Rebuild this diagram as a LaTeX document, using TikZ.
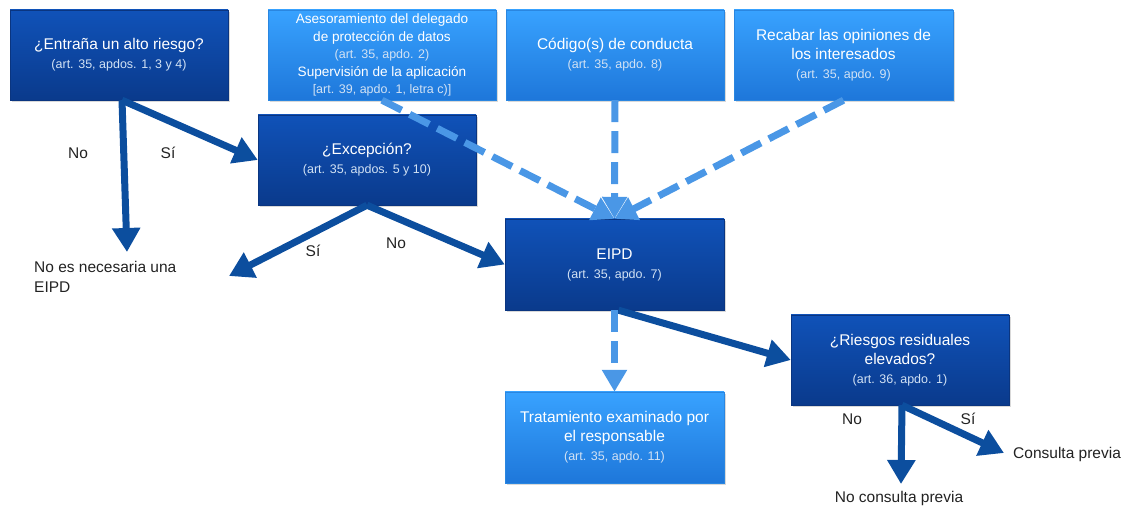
\documentclass[tikz,border=0pt]{standalone}
\usepackage{fontspec}
\setmainfont{Liberation Sans}
\usetikzlibrary{arrows.meta,shadows}
\definecolor{decisiontop}{HTML}{1052B8}
\definecolor{decisionbottom}{HTML}{0A3A8C}
\definecolor{decisionline}{HTML}{0A3580}
\definecolor{aidtop}{HTML}{38A2FF}
\definecolor{aidbottom}{HTML}{1E77DA}
\definecolor{aidline}{HTML}{2A86E0}
\definecolor{flowblue}{HTML}{0C4E9E}
\definecolor{supportblue}{HTML}{4A97E6}
\definecolor{subtext}{HTML}{D2E2F4}
\definecolor{labeltext}{HTML}{222222}
\newcommand{\artref}[1]{{\fontsize{12.5}{15}\selectfont\color{subtext}#1}}
\tikzset{%
  box/.style = {shape=rectangle, draw, align=center, text=white,
    inner sep=2pt, minimum width=218pt, minimum height=90pt,
    font=\fontsize{15.5}{19}\selectfont,
    drop shadow={opacity=.3, shadow xshift=1.5pt, shadow yshift=-2pt}},
  decision/.style = {box, draw=decisionline,
    top color=decisiontop, bottom color=decisionbottom},
  aid/.style = {box, draw=aidline,
    top color=aidtop, bottom color=aidbottom},
  flow/.style = {draw=flowblue, line width=7pt,
    -{Triangle[length=24pt,width=27pt]}},
  support/.style = {draw=supportblue, line width=7pt,
    dash pattern=on 22pt off 9pt,
    -{Triangle[length=22pt,width=24pt]}},
  answer/.style = {text=labeltext, font=\fontsize{15.5}{20}\selectfont,
    inner sep=1pt}
}

\begin{document}
\begin{tikzpicture}[x=1pt,y=-1pt]
  \useasboundingbox (0,0) rectangle (1125,510);
  % boxes
  \node[decision] (risk) at (119,55)
    {¿Entraña un alto riesgo?\\ \artref{(art. 35, apdos. 1, 3 y 4)}};
  \node[aid, minimum width=228pt, font=\fontsize{13.6}{17.5}\selectfont] (advice) at (382,55)
    {Asesoramiento del delegado\\de protección de datos\\ \artref{(art. 35, apdo. 2)}\\
     Supervisión de la aplicación\\ \artref{[art. 39, apdo. 1, letra c)]}};
  \node[aid] (code) at (615,55)
    {Código(s) de conducta\\ \artref{(art. 35, apdo. 8)}};
  \node[aid, minimum width=219pt] (views) at (843.5,55)
    {Recabar las opiniones de\\los interesados\\ \artref{(art. 35, apdo. 9)}};
  \node[decision] (exception) at (367,160)
    {¿Excepción?\\ \artref{(art. 35, apdos. 5 y 10)}};
  \node[decision, minimum width=219pt, minimum height=91pt] (eipd) at (614.5,264.5)
    {EIPD\\ \artref{(art. 35, apdo. 7)}};
  \node[decision] (residual) at (900,360)
    {¿Riesgos residuales\\elevados?\\ \artref{(art. 36, apdo. 1)}};
  \node[aid, minimum width=219pt, minimum height=91pt] (review) at (614.5,437.5)
    {Tratamiento examinado por\\el responsable\\ \artref{(art. 35, apdo. 11)}};

  % outcomes and answers
  \node[answer, anchor=west, align=left] (noeipd) at (33,277)
    {No es necesaria una\\EIPD};
  \node[answer, anchor=west] (prior) at (1012,454) {Consulta previa};
  \node[answer] (noprior) at (899,498) {No consulta previa};
  \node[answer] (riskno) at (78,153) {No};
  \node[answer] (risksi) at (168,153) {Sí};
  \node[answer] (excsi) at (313,251) {Sí};
  \node[answer] (excno) at (396,243) {No};
  \node[answer] (resno) at (852,419) {No};
  \node[answer] (ressi) at (968,419) {Sí};

  \coordinate (noeipdtop) at (127,252);
  \coordinate (noeipdright) at (229,276);
  \coordinate (priorleft) at (1004,453);
  \coordinate (noprioretop) at (901,484);

  % solid flow
  \draw[flow] ([xshift=3pt]risk.south) -- (noeipdtop);
  \draw[flow] ([xshift=3pt]risk.south) -- (exception.west);
  \draw[flow] (exception.south) -- (noeipdright);
  \draw[flow] (exception.south) -- (eipd.west);
  \draw[flow] ([xshift=4pt]eipd.south) -- (residual.west);
  \draw[flow] ([xshift=2pt]residual.south) -- (noprioretop);
  \draw[flow] ([xshift=2pt]residual.south) -- (priorleft);

  % dashed support
  \draw[support] (advice.south) -- (eipd.north);
  \draw[support] (code.south) -- (eipd.north);
  \draw[support] (views.south) -- (eipd.north);
  \draw[support] (eipd.south) -- (review.north);
\end{tikzpicture}
\end{document}
